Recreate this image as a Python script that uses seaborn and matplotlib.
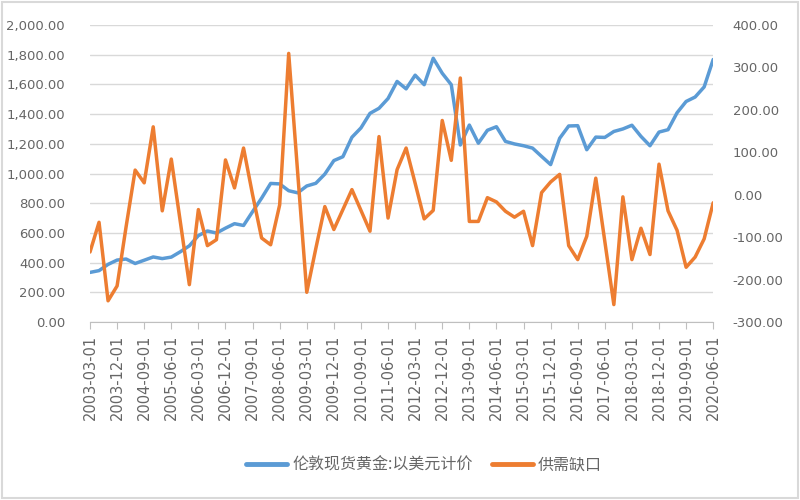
import matplotlib
matplotlib.use("Agg")
import matplotlib.pyplot as plt
import seaborn as sns
import numpy as np
import pandas as pd
from matplotlib.lines import Line2D
from matplotlib.patches import Rectangle

# quarterly dates 2003-03-01 .. 2020-06-01
dates = [f"{y}-{m:02d}-01" for y in range(2003, 2021) for m in (3, 6, 9, 12)][:70]

gold_usd = [
    334, 346, 388, 417,
    424, 394, 416, 438,
    427, 437, 473, 513,
    582, 613, 599, 632,
    662, 650, 743, 834,
    933, 930, 884, 870,
    916, 934, 996, 1087,
    1113, 1244, 1307, 1405,
    1439, 1505, 1620, 1570,
    1662, 1598, 1776, 1675,
    1598, 1192, 1326, 1204,
    1291, 1315, 1216, 1199,
    1187, 1171, 1115, 1060,
    1237, 1320, 1322, 1160,
    1245, 1243, 1283, 1300,
    1325, 1250, 1187, 1279,
    1295, 1409, 1485, 1515,
    1583, 1768,
]

supply_gap = [
    -135, -65, -250, -215,
    -75, 58, 28, 160,
    -38, 84, -64, -212,
    -35, -120, -106, 82,
    16, 110, 0, -102,
    -118, -24, 333, 50,
    -230, -127, -28, -82,
    -35, 12, -37, -86,
    137, -55, 59, 110,
    27, -57, -37, 175,
    81, 275, -63, -63,
    -7, -17, -39, -53,
    -39, -120, 5, 30,
    48, -120, -153, -98,
    39, -110, -259, -5,
    -153, -79, -141, 72,
    -38, -84, -171, -147,
    -104, -19,
]

label_gold = "伦敦现货黄金:以美元计价"
label_gap = "供需缺口"

df = pd.DataFrame({"date": dates, "gold": gold_usd, "gap": supply_gap})
df["pos"] = np.arange(len(df))

sns.set_style("white")
plt.rcParams["font.family"] = ["DejaVu Sans", "Noto Sans CJK SC"]

blue = "#5B9BD5"
orange = "#ED7D31"
grey = "#666666"

fig = plt.figure(figsize=(8, 5), dpi=100)
ax = fig.add_axes([0.1125, 0.356, 0.779, 0.594])
ax2 = ax.twinx()

sns.lineplot(data=df, x="pos", y="gold", ax=ax, color=blue, linewidth=2.5)
sns.lineplot(data=df, x="pos", y="gap", ax=ax2, color=orange, linewidth=2.5)

ax.set_xlim(0, len(df) - 1)
ax.set_ylim(0, 2000)
ax.set_yticks(np.arange(0, 2001, 200))
ax.set_yticklabels([f"{v:,.2f}" for v in np.arange(0, 2001, 200)])
ax2.set_ylim(-300, 400)
ax2.set_yticks(np.arange(-300, 401, 100))
ax2.set_yticklabels([f"{v:.2f}" for v in np.arange(-300, 401, 100)])

xt = df["pos"][::3]
ax.set_xticks(xt)
ax.set_xticklabels(df["date"][::3], rotation=90)

ax.grid(axis="y", color="#d9d9d9", linewidth=1)
ax.set_axisbelow(True)
ax.set_xlabel("")
ax.set_ylabel("")
ax2.set_ylabel("")

for a in (ax, ax2):
    for s in a.spines.values():
        s.set_visible(False)
ax.spines["bottom"].set_visible(True)
ax.spines["bottom"].set_color("#bfbfbf")

ax.tick_params(axis="y", length=0, labelsize=9.5, labelcolor=grey, pad=18)
ax2.tick_params(axis="y", length=0, labelsize=9.5, labelcolor=grey, pad=14)
ax.tick_params(axis="x", length=5, color="#bfbfbf", labelsize=10.5, labelcolor=grey, pad=4,
               direction="out", bottom=True)

handles = [Line2D([], [], color=blue, linewidth=3.5),
           Line2D([], [], color=orange, linewidth=3.5)]
fig.legend(handles, [label_gold, label_gap], loc="center", bbox_to_anchor=(0.53, 0.07),
           ncol=2, frameon=False, prop={"family": ["Noto Sans CJK SC", "DejaVu Sans"], "size": 11.5},
           labelcolor=grey, handlelength=2.6, handletextpad=0.3, columnspacing=1.2)

fig.add_artist(Rectangle((0.003, 0.004), 0.994, 0.992, transform=fig.transFigure,
                         fill=False, edgecolor="#d9d9d9", linewidth=1.5))

fig.savefig("out.png", dpi=100)
